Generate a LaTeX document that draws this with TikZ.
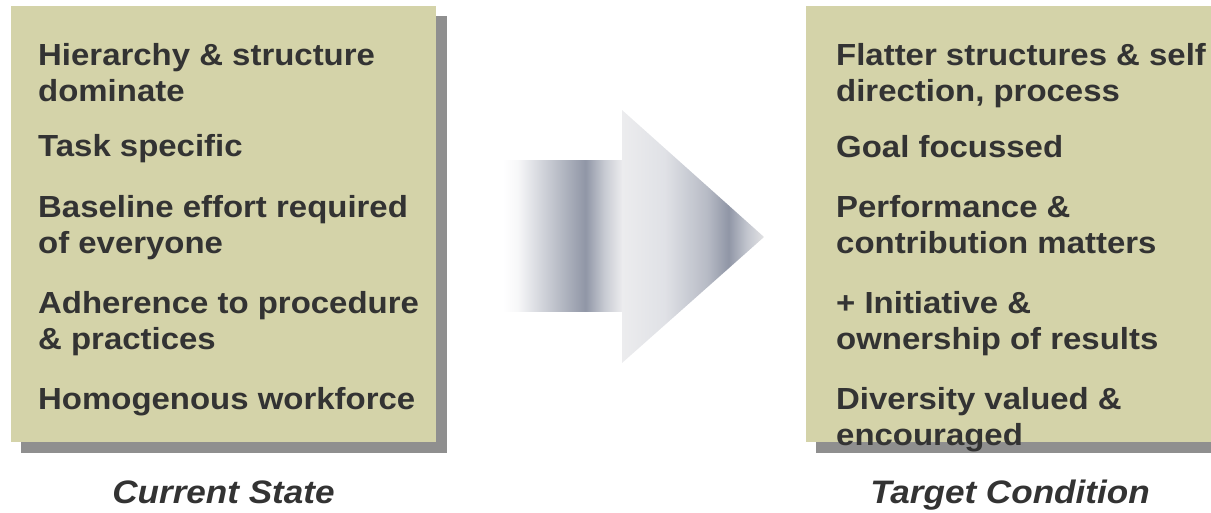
\documentclass[tikz,border=0pt]{standalone}
\usepackage{fontspec}
\setmainfont{Liberation Sans}[FakeStretch=1.08]
\newfontfamily\labelfont{Liberation Sans}[FakeStretch=1.08]
\definecolor{boxfill}{HTML}{D4D3A9}
\definecolor{shadowgray}{HTML}{8F8F8F}
\definecolor{txt}{HTML}{333333}
\definecolor{arrdark}{HTML}{9096A6}
\definecolor{arrlightA}{HTML}{ECECEE}
\definecolor{arrlightB}{HTML}{E2E2E4}
\pgfdeclarehorizontalshading{shaftshade}{100bp}{color(0bp)=(white); color(25bp)=(white); color(31bp)=(white!93!arrdark); color(42.5bp)=(white!55!arrdark); color(59.5bp)=(arrdark); color(67.5bp)=(white!50!arrdark); color(75bp)=(arrlightA); color(100bp)=(arrlightA)}
\pgfdeclarehorizontalshading{headshade}{100bp}{color(0bp)=(arrlightA); color(25bp)=(arrlightA); color(40bp)=(white!72!arrdark); color(55bp)=(white!35!arrdark); color(62.5bp)=(arrdark); color(69bp)=(white!45!arrdark); color(75bp)=(arrlightB); color(100bp)=(arrlightB)}
\tikzset{
  panel/.style={fill=boxfill, draw=none},
  panelshadow/.style={fill=shadowgray, draw=none},
  item/.style={anchor=north west, inner sep=0pt, align=left, text=txt,
    font=\fontsize{30.5}{36}\selectfont\bfseries},
  caption/.style={anchor=base, inner sep=0pt, text=txt,
    font=\labelfont\fontsize{32.5}{36}\selectfont\bfseries\itshape},
}
\newcommand{\firstline}{\rule{0pt}{24pt}}
\begin{document}
\begin{tikzpicture}[x=1pt,y=-1pt]
\useasboundingbox (0,0) rectangle (1211,513);
\clip (0,0) rectangle (1211,513);
% left panel
\fill[panelshadow] (21,16) rectangle (447,453);
\fill[panel] (11,6) rectangle (436,442);
\node[item] (l1) at (38,41) {\firstline Hierarchy \& structure\\dominate};
\node[item] (l2) at (38,132) {\firstline Task specific};
\node[item] (l3) at (38,193) {\firstline Baseline effort required\\of everyone};
\node[item] (l4) at (38,289) {\firstline Adherence to procedure\\\& practices};
\node[item] (l5) at (38,385) {\firstline Homogenous workforce};
% right panel
\fill[panelshadow] (816,16) rectangle (1241,453);
\fill[panel] (806,6) rectangle (1231,442);
\node[item] (r1) at (836,41) {\firstline Flatter structures \& self\\direction, process};
\node[item] (r2) at (836,133) {\firstline Goal focussed};
\node[item] (r3) at (836,193) {\firstline Performance \&\\contribution matters};
\node[item] (r4) at (836,289) {\firstline + Initiative \&\\ownership of results};
\node[item] (r5) at (836,385) {\firstline Diversity valued \&\\encouraged};
% arrow
\path[shading=shaftshade] (503,161) rectangle (622.5,312);
\path[shading=headshade] (622,110) -- (764,237) -- (622,363) -- cycle;
% captions
\node[caption] (cs) at (223.5,503) {Current State};
\node[caption] (tc) at (1010,503) {Target Condition};
\end{tikzpicture}
\end{document}
